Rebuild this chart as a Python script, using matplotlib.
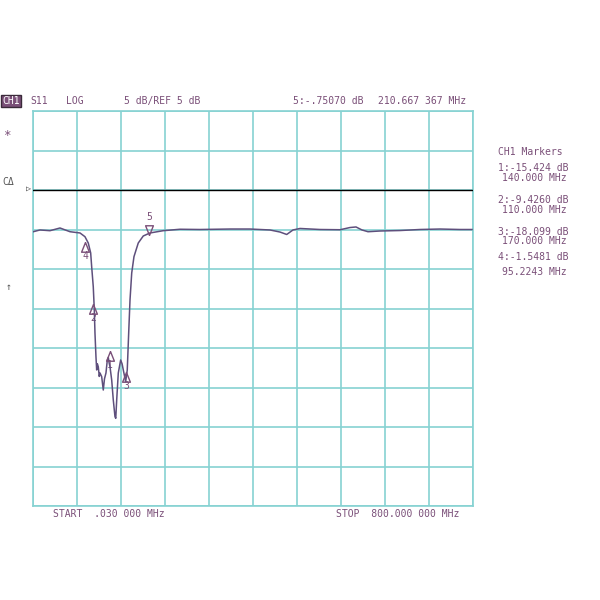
import matplotlib
matplotlib.use("Agg")
import matplotlib.pyplot as plt
from matplotlib.path import Path
import numpy as np

# ---- data ----
freq_mhz = [0.5, 12.7, 30.9, 49.1, 67.3, 85.5, 94.5, 100.5, 104.9, 106.7, 109.6, 111.5,
            112.7, 114.5, 115.8, 117.0, 118.7, 120.5, 121.8, 124.9, 127.8, 130.0, 132.7,
            135.0, 136.9, 138.5, 140.0, 143.1, 146.0, 149.1, 150.5, 152.2, 155.1, 159.4,
            162.0, 164.2, 168.5, 171.4, 174.0, 176.4, 179.5, 183.6, 191.4, 200.5, 212.7,
            236.9, 267.3, 303.6, 358.2, 394.5, 430.9, 449.1, 461.3, 472.7, 485.5, 521.8,
            558.2, 576.4, 587.3, 598.2, 609.1, 630.9, 667.3, 703.6, 740.0, 776.4, 798.2]
s11_db = [-0.28, -0.06, -0.15, 0.19, -0.28, -0.44, -0.91, -1.71, -2.97, -4.71, -7.24, -10.19,
          -13.10, -16.10, -17.78, -17.0, -17.37, -18.6, -18.16, -18.63, -20.32, -18.9, -18.16,
          -16.6, -16.2, -16.9, -17.37, -19.05, -21.58, -23.70, -23.9, -21.58, -18.16, -16.52,
          -17.0, -17.78, -19.27, -17.78, -13.10, -8.92, -5.51, -3.44, -1.71, -0.82, -0.44,
          -0.15, 0.03, 0.0, 0.06, 0.06, -0.06, -0.32, -0.63, -0.06, 0.13, 0.0,
          -0.03, 0.25, 0.32, -0.06, -0.28, -0.19, -0.13, 0.0, 0.06, 0.0, 0.0]

marker_ids = ["1", "2", "3", "4", "5"]
marker_freq = [140.0, 110.0, 170.0, 95.2243, 210.667]
marker_db = [-15.424, -9.426, -18.099, -1.5481, -0.7507]

ref_level = 5.0
start_mhz, stop_mhz = 0.03, 800.0
top_db, bottom_db = 15.0, -35.0

header = ["S11", "LOG", "5 dB/REF 5 dB", "5:-.75070 dB", "210.667 367 MHz"]
marker_lines = ["1:-15.424 dB", "140.000 MHz", "2:-9.4260 dB", "110.000 MHz",
                "3:-18.099 dB", "170.000 MHz", "4:-1.5481 dB", "95.2243 MHz"]

# ---- style ----
grid_c = "#86d2d2"
txt_c = "#7a4f78"
trace_c = "#5e4f7c"
mono = "DejaVu Sans Mono"

fig = plt.figure(figsize=(6, 6), dpi=100)
fig.patch.set_facecolor("white")
ax = fig.add_axes([33/600, 1-506/600, 440/600, 395/600])
ax.set_xlim(start_mhz, stop_mhz)
ax.set_ylim(bottom_db, top_db)
ax.set_xticks(np.linspace(start_mhz, stop_mhz, 11))
ax.set_yticks(np.arange(bottom_db, top_db + 0.1, 5))
ax.grid(True, color=grid_c, lw=1.2)
ax.tick_params(length=0, labelbottom=False, labelleft=False)
for s in ax.spines.values():
    s.set_color(grid_c)
    s.set_linewidth(1.2)

ax.axhline(ref_level, color="black", lw=1.0, zorder=3)
ax.plot(freq_mhz, s11_db, color=trace_c, lw=1.1, zorder=4)

up_tri = Path([(0, 0), (-0.4, -1), (0.4, -1), (0, 0)])
down_tri = Path([(0, 0), (-0.4, 1), (0.4, 1), (0, 0)])
for mid, f, d in zip(marker_ids, marker_freq, marker_db):
    if mid == "5":
        ax.plot([f], [d], marker=down_tri, ms=14, mfc="none", mec=txt_c, mew=1.0,
                ls="none", zorder=5, clip_on=False)
        ax.annotate(mid, (f, d), xytext=(0, 13), textcoords="offset points",
                    ha="center", va="center", fontsize=7, color=txt_c, family=mono)
    else:
        ax.plot([f], [d], marker=up_tri, ms=14, mfc="none", mec=txt_c, mew=1.0,
                ls="none", zorder=5)
        ax.annotate(mid, (f, d), xytext=(0, -10), textcoords="offset points",
                    ha="center", va="center", fontsize=7, color=txt_c, family=mono)

def ftext(x, y, s, **kw):
    kw.setdefault("fontsize", 7)
    kw.setdefault("color", txt_c)
    kw.setdefault("family", mono)
    kw.setdefault("va", "center")
    fig.text(x/600, 1 - y/600, s, **kw)

# header
ftext(2, 101, "CH1", color="white",
      bbox=dict(boxstyle="square,pad=0.1", fc=txt_c, ec="#3a2a3a", lw=1))
hx = [30, 66, 124, 293, 378]
for x, s in zip(hx, header):
    ftext(x, 101, s)

# left annotations
ftext(3, 136, "*", fontsize=9)
ftext(2, 182, "CΔ", color="#555555")
ftext(6, 287, "↑", color="#555555")
ftext(26, 188, "▷", color="#333333", fontsize=6)

# right marker panel
ftext(498, 152, "CH1 Markers")
ys = [168, 178, 200, 210, 232, 241, 257, 272]
xs = [498, 502, 498, 502, 498, 502, 498, 502]
for x, y, s in zip(xs, ys, marker_lines):
    ftext(x, y, s)

# bottom
ftext(53, 514, "START  .030 000 MHz")
ftext(336, 514, "STOP  800.000 000 MHz")

fig.savefig("out.png", dpi=100)
